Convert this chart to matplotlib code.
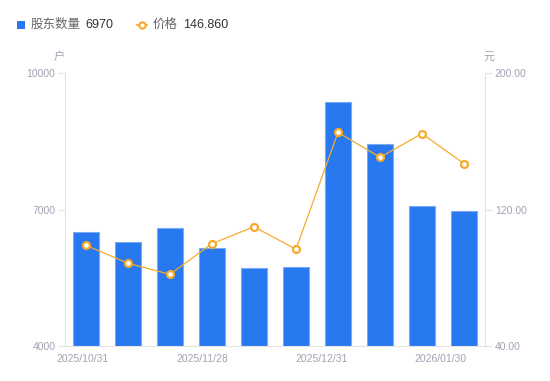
import matplotlib
matplotlib.use("Agg")
import matplotlib.pyplot as plt
from matplotlib.lines import Line2D
from matplotlib.patches import Rectangle
import numpy as np

plt.rcParams['font.family'] = ['Liberation Sans', 'Noto Sans CJK SC', 'DejaVu Sans']

holders = [6510, 6290, 6590, 6150, 5710, 5730, 9360, 8430, 7080, 6970]
price = [99.0, 88.5, 82.0, 100.0, 109.9, 96.7, 165.2, 150.6, 164.5, 146.86]
x_labels = ["2025/10/31", "2025/11/28", "2025/12/31", "2026/01/30"]
x_label_pos = [-0.08, 2.76, 5.6, 8.45]
left_ticks = [4000, 7000, 10000]
right_ticks = [40, 120, 200]

BLUE = "#2878f0"
ORANGE = "#f6ab2e"
GRID = "#e3e3e3"
TICK = "#a0a3b2"

fig = plt.figure(figsize=(5.5, 3.81), dpi=100)
ax = fig.add_axes([65/550, 35/381, 420/550, 273/381])
x = np.arange(len(holders))
ax.bar(x, holders, width=0.6, color=BLUE, edgecolor="#78aaf5", linewidth=0.8, zorder=2)
ax.set_xlim(-0.5, len(holders) - 0.5)
ax.set_ylim(4000, 10000)
ax.set_yticks(left_ticks)
ax.set_yticklabels([str(t) for t in left_ticks])
ax.set_xticks(x_label_pos)
ax.set_xticklabels(x_labels)
ax.tick_params(axis='x', length=0, colors=TICK, labelsize=7.5, pad=6)
ax.tick_params(axis='y', length=5, color=GRID, colors=TICK, labelsize=7.5, pad=2)
for s in ['top', 'right']:
    ax.spines[s].set_visible(False)
ax.spines['left'].set_color(GRID)
ax.spines['bottom'].set_color(GRID)

ax2 = ax.twinx()
ax2.plot(x, price, color=ORANGE, linewidth=0.9, marker='o', markersize=5,
         markerfacecolor='white', markeredgecolor=ORANGE, markeredgewidth=1.6, zorder=3)
ax2.set_ylim(40, 200)
ax2.set_yticks(right_ticks)
ax2.set_yticklabels([f"{t:.2f}" for t in right_ticks])
ax2.tick_params(axis='y', length=5, color=GRID, colors=TICK, labelsize=7.5, pad=2)
for s in ['top', 'left', 'bottom']:
    ax2.spines[s].set_visible(False)
ax2.spines['right'].set_color(GRID)

fig.text(59/550, 1 - 57/381, "户", fontsize=8, color=TICK, ha='center', va='center')
fig.text(489/550, 1 - 57/381, "元", fontsize=8, color=TICK, ha='center', va='center')

# legend
fig.patches.append(Rectangle((17/550, 1 - 29/381), 8/550, 8/381, transform=fig.transFigure,
                             facecolor=BLUE, edgecolor='none'))
fig.text(31/550, 1 - 25/381, "股东数量", fontsize=9, color="#666666", va='center')
fig.text(85/550, 1 - 25/381, f"{holders[-1]}", fontsize=9, color="#333333", va='center')
fig.lines.append(Line2D([137/550, 147/550], [1 - 25/381, 1 - 25/381], transform=fig.transFigure,
                        color=ORANGE, linewidth=1.3))
fig.lines.append(Line2D([142/550], [1 - 25/381], transform=fig.transFigure, color=ORANGE,
                        marker='o', markersize=4.5, markerfacecolor='white', markeredgewidth=1.5,
                        linestyle='none'))
fig.text(153/550, 1 - 25/381, "价格", fontsize=9, color="#666666", va='center')
fig.text(183/550, 1 - 25/381, f"{price[-1]:.3f}", fontsize=9, color="#333333", va='center')

fig.savefig("out.png", dpi=100)
